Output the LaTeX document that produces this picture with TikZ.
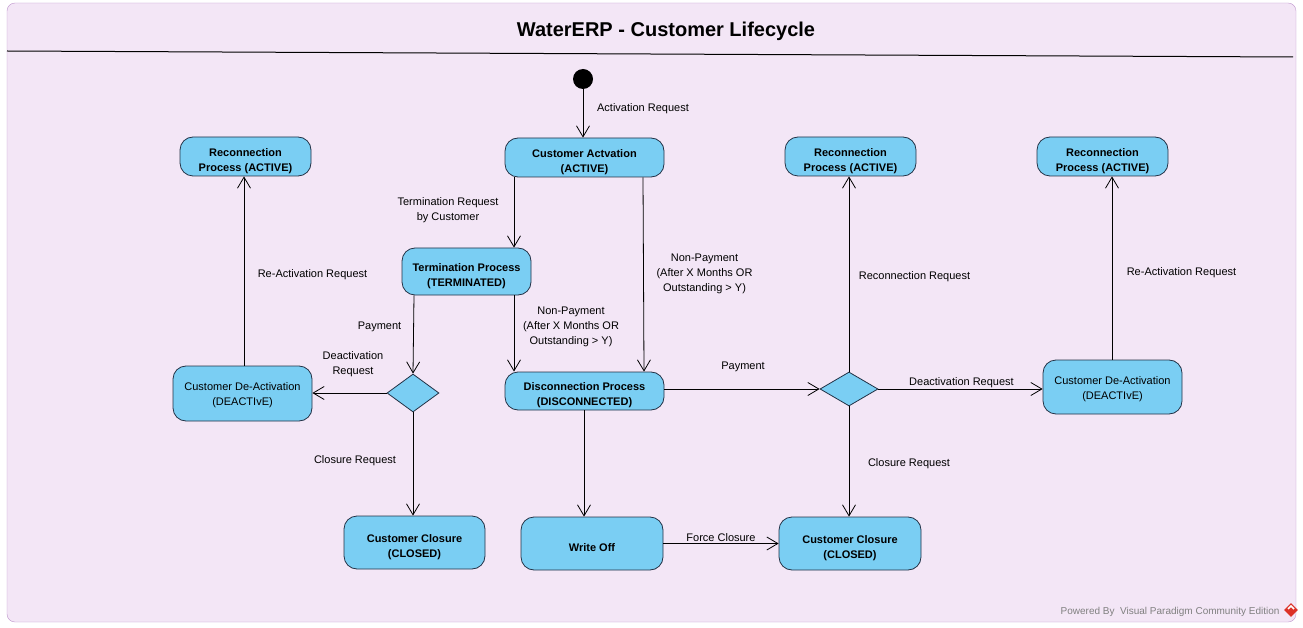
\documentclass[tikz,border=0pt]{standalone}
\usepackage{fontspec}
\setmainfont{Liberation Sans}
\usetikzlibrary{arrows.meta,shapes.geometric}
\definecolor{framebg}{RGB}{243,230,246}
\definecolor{frameline}{RGB}{190,150,205}
\definecolor{statefill}{RGB}{122,206,243}
\definecolor{stateline}{RGB}{35,50,70}
\definecolor{footgray}{RGB}{128,128,128}
\definecolor{logored}{RGB}{220,50,40}

\begin{document}
\begin{tikzpicture}[x=1pt,y=-1pt,
    statebox/.style={draw=stateline,fill=statefill,rounded corners=13pt,line width=0.8pt,inner sep=0pt,align=center},
    state/.style={statebox,font=\fontsize{11}{15}\selectfont\bfseries,execute at begin node={\rule{0pt}{32pt}}},
    singlestate/.style={statebox,font=\fontsize{11}{15}\selectfont\bfseries,execute at begin node={\rule{0pt}{17pt}}},
    plainstate/.style={statebox,font=\fontsize{11}{15}\selectfont,execute at begin node={\rule{0pt}{27pt}}},
    choice/.style={diamond,draw=stateline,fill=statefill,line width=0.8pt,inner sep=0pt},
    flow/.style={draw=black,line width=0.8pt,-{Straight Barb[length=11pt,width=13pt]}},
    lbl/.style={font=\fontsize{11}{15}\selectfont,align=center,inner sep=0pt,yshift=-2pt}]
    \useasboundingbox (0,0) rectangle (1303,628);
    \draw[frameline,fill=framebg,rounded corners=8pt] (7,3) rectangle (1296,622);
    \node[font=\fontsize{20}{22}\selectfont\bfseries] (title) at (666,31) {WaterERP - Customer Lifecycle};
    \draw[line width=1pt] (7,51) -- (1293,57);

    % states
    \node[circle,fill=black,minimum size=20pt,inner sep=0pt] (start) at (583,79) {};
    \node[state,minimum width=159pt,minimum height=39pt] (act) at (584.5,157.5) {Customer Actvation\\(ACTIVE)};
    \node[state,minimum width=131pt,minimum height=39pt] (reconL) at (245.5,156.5) {Reconnection\\Process (ACTIVE)};
    \node[state,minimum width=129pt,minimum height=47pt] (term) at (466.5,271.5) {Termination Process\\(TERMINATED)};
    \node[plainstate,minimum width=139pt,minimum height=55pt] (deactL) at (242.5,393.5) {Customer De-Activation\\(DEACTIvE)};
    \node[choice,minimum width=52pt,minimum height=38pt] (choiceL) at (413,393) {};
    \node[state,minimum width=159pt,minimum height=38pt] (disc) at (584.5,391) {Disconnection Process\\(DISCONNECTED)};
    \node[state,minimum width=141pt,minimum height=53pt] (closeL) at (414.5,542.5) {Customer Closure\\(CLOSED)};
    \node[singlestate,minimum width=142pt,minimum height=53pt] (writeoff) at (592,543.5) {Write Off};
    \node[state,minimum width=142pt,minimum height=53pt] (closeR) at (850,543.5) {Customer Closure\\(CLOSED)};
    \node[choice,minimum width=58pt,minimum height=34pt] (choiceR) at (849,389) {};
    \node[state,minimum width=131pt,minimum height=39pt] (reconM) at (850.5,156.5) {Reconnection\\Process (ACTIVE)};
    \node[state,minimum width=131pt,minimum height=39pt] (reconR) at (1102.5,156.5) {Reconnection\\Process (ACTIVE)};
    \node[plainstate,minimum width=139pt,minimum height=54pt] (deactR) at (1112.5,387) {Customer De-Activation\\(DEACTIvE)};

    % transitions
    \draw[flow] (start) -- (start |- act.north) node[lbl,midway,xshift=60pt,yshift=6.5pt] {Activation Request};
    \draw[flow] ([xshift=-70.5pt]act.south) -- ([xshift=47.5pt]term.north) node[lbl,midway,xshift=-66pt,yshift=4pt] {Termination Request\\by Customer};
    \draw[flow] ([xshift=58.5pt]act.south) -- ([xshift=59.5pt]disc.north) node[lbl,midway,xshift=61pt,yshift=2.5pt] {Non-Payment\\(After X Months OR\\Outstanding > Y)};
    \draw[flow] ([xshift=47.5pt]term.south) -- ([xshift=-70.5pt]disc.north) node[lbl,midway,xshift=57pt,yshift=8.5pt] {Non-Payment\\(After X Months OR\\Outstanding > Y)};
    \draw[flow] ([xshift=-52.5pt]term.south) -- (choiceL.north) node[lbl,midway,xshift=-34pt,yshift=9.5pt] {Payment};
    \draw[flow] (choiceL.west) -- (choiceL.west -| deactL.east) node[lbl,midway,xshift=3.5pt,yshift=30.5pt] {Deactivation\\Request};
    \draw[flow] ([xshift=1.5pt]deactL.north) -- ([xshift=1.5pt]deactL.north |- reconL.south) node[lbl,midway,xshift=68.5pt,yshift=-2pt] {Re-Activation Request};
    \draw[flow] (choiceL.south) -- (choiceL.south |- closeL.north) node[lbl,midway,xshift=-58pt,yshift=5pt] {Closure Request};
    \draw[flow] ([xshift=-0.5pt]disc.south) -- ([xshift=-0.5pt]disc.south |- writeoff.north);
    \draw[flow] (choiceR.west -| disc.east) -- (choiceR.west) node[lbl,midway,xshift=1pt,yshift=24pt] {Payment};
    \draw[flow] (choiceR.north) -- (choiceR.north |- reconM.south) node[lbl,midway,xshift=65.5pt,yshift=-0.5pt] {Reconnection Request};
    \draw[flow] (choiceR.east) -- (choiceR.east -| deactR.west) node[lbl,midway,xshift=1pt,yshift=8pt] {Deactivation Request};
    \draw[flow] ([xshift=-0.5pt]deactR.north) -- ([xshift=-0.5pt]deactR.north |- reconR.south) node[lbl,midway,xshift=69.5pt,yshift=-3pt] {Re-Activation Request};
    \draw[flow] (choiceR.south) -- (choiceR.south |- closeR.north) node[lbl,midway,xshift=60pt] {Closure Request};
    \draw[flow] (writeoff.east) -- (writeoff.east -| closeR.west) node[lbl,midway,yshift=8pt] {Force Closure};

    \node[font=\fontsize{10}{11}\selectfont,text=footgray,anchor=east] (foot) at (1283,612) {Powered By \ Visual Paradigm Community Edition};
    \node[diamond,fill=logored,minimum size=14pt,inner sep=0pt] (logo) at (1291,610) {};
    \draw[white,line width=1.6pt] ([xshift=-3pt,yshift=1pt]logo.center) -- ([yshift=4pt]logo.center) -- ([xshift=3pt,yshift=1pt]logo.center);
\end{tikzpicture}
\end{document}
